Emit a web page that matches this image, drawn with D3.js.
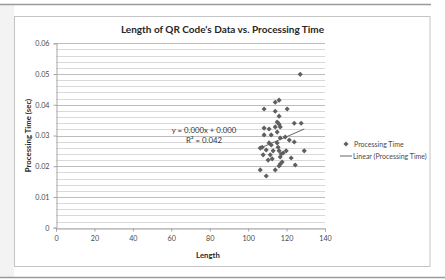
<!DOCTYPE html>
<html>
<head>
<meta charset="utf-8">
<script src="https://cdn.jsdelivr.net/npm/d3@7"></script>
<style>
  body { margin: 0; background: #fff; }
  svg { display: block; font-family: Lato, "Open Sans", sans-serif; }
</style>
</head>
<body>
<div class="chart"></div>
<script>
var w = 445;
var h = 280;

// data: length of QR data vs processing time (sec)
var lengths = [116.1, 114.1, 108.3, 114.1, 120.3, 116.1, 115.1, 116.1, 114.1, 108.3,
               110.9, 116.7, 124.0, 127.6, 108.3, 112.0, 116.7, 119.3, 121.4, 124.0,
               110.9, 115.1, 106.3, 107.3, 109.4, 113.0, 116.1, 119.8, 129.2, 107.8,
               111.5, 112.5, 117.2, 116.7, 122.4, 117.7, 116.7, 116.1, 124.5, 106.3,
               114.1, 109.4, 127.1, 118.2, 112.0, 115.6, 110.4, 115.1];
var times = [0.0415, 0.0408, 0.0386, 0.0379, 0.0386, 0.0363, 0.0344, 0.0337, 0.0328, 0.0324,
             0.0321, 0.0328, 0.0340, 0.0340, 0.0302, 0.0302, 0.0292, 0.0295, 0.0285, 0.0279,
             0.0276, 0.0276, 0.0259, 0.0262, 0.0253, 0.0250, 0.0250, 0.0250, 0.0250, 0.0237,
             0.0237, 0.0224, 0.0240, 0.0230, 0.0227, 0.0214, 0.0207, 0.0201, 0.0204, 0.0188,
             0.0188, 0.0168, 0.0499, 0.0243, 0.0269, 0.0262, 0.0220, 0.0311];

// linear trend line end points as drawn
var trendX = [106.3, 129.2];
var trendY = [0.0259, 0.0321];

var xTicks = [0, 20, 40, 60, 80, 100, 120, 140];
var yTicks = [0, 0.01, 0.02, 0.03, 0.04, 0.05, 0.06];
var yMinor = d3.range(0, 0.0601, 0.002);

var title = "Length of QR Code's Data vs. Processing Time";
var xTitle = "Length";
var yTitle = "Processing Time (sec)";
var eqLines = ["y = 0.000x + 0.000", "R\u00b2 = 0.042"];
var legendNames = ["Processing Time", "Linear (Processing Time)"];

var ptColor = "#5f5f5f";
var textColor = "#4a4a4a";

var svg = d3.select(".chart").append("svg")
    .attr("width", w)
    .attr("height", h);

// screenshot frame
svg.append("rect").attr("x", 0).attr("y", 5).attr("width", 14).attr("height", 272).attr("fill", "#f3f3f3");
svg.append("line").attr("x1", 0).attr("x2", 431).attr("y1", 4.5).attr("y2", 4.5)
    .attr("stroke", "#9a9a9a").attr("stroke-width", 1.5);
svg.append("line").attr("x1", 0).attr("x2", 445).attr("y1", 277.5).attr("y2", 277.5)
    .attr("stroke", "#9a9a9a").attr("stroke-width", 1.5);
svg.append("rect")
    .attr("x", 14.5).attr("y", 16.5).attr("width", 415.5).attr("height", 250)
    .attr("fill", "#fff").attr("stroke", "#c4c4c4");

var x = d3.scaleLinear().domain([0, 140]).range([56, 325]);
var y = d3.scaleLinear().domain([0, 0.06]).range([227.7, 43.3]);

// gridlines
svg.append("g").selectAll("line")
    .data(yMinor)
    .enter().append("line")
    .attr("x1", x(0)).attr("x2", x(140))
    .attr("y1", function(d) { return Math.round(y(d)) + 0.5; })
    .attr("y2", function(d) { return Math.round(y(d)) + 0.5; })
    .attr("stroke", "#d9d9d9");
svg.append("g").selectAll("line")
    .data(yTicks.slice(1))
    .enter().append("line")
    .attr("x1", x(0)).attr("x2", x(140))
    .attr("y1", function(d) { return Math.round(y(d)) + 0.5; })
    .attr("y2", function(d) { return Math.round(y(d)) + 0.5; })
    .attr("stroke", "#bdbdbd");

// axes
var xAxis = d3.axisBottom(x).tickValues(xTicks).tickSize(3).tickPadding(4).tickFormat(d3.format("d"));
var yAxis = d3.axisLeft(y).tickValues(yTicks).tickSize(3).tickPadding(4)
    .tickFormat(function(d) { return d === 0 ? "0" : d.toFixed(2); });

var gx = svg.append("g").attr("transform", "translate(0," + (Math.round(y(0)) + 0.5) + ")").call(xAxis);
var gy = svg.append("g").attr("transform", "translate(" + (Math.round(x(0)) + 0.5) + ",0)").call(yAxis);
[gx, gy].forEach(function(g) {
    g.select(".domain").attr("stroke", "#a6a6a6");
    g.selectAll(".tick line").attr("stroke", "#a6a6a6");
    g.selectAll(".tick text").attr("fill", textColor).attr("font-size", "7.2px")
        .attr("font-family", "Lato, sans-serif");
});

// trend line
svg.append("line")
    .attr("x1", x(trendX[0])).attr("y1", y(trendY[0]))
    .attr("x2", x(trendX[1])).attr("y2", y(trendY[1]))
    .attr("stroke", "#555").attr("stroke-width", 0.9);

// points
var diamond = d3.symbol().type(d3.symbolSquare).size(13);
svg.append("g").selectAll("path")
    .data(lengths)
    .enter().append("path")
    .attr("d", diamond)
    .attr("transform", function(d, i) {
        return "translate(" + x(d) + "," + y(times[i]) + ") rotate(45)";
    })
    .attr("fill", ptColor);

// trend equation
svg.append("g").selectAll("text")
    .data(eqLines)
    .enter().append("text")
    .attr("x", 204)
    .attr("y", function(d, i) { return 133 + i * 10; })
    .attr("text-anchor", "middle")
    .attr("font-size", "7.8px")
    .attr("fill", "#333")
    .text(function(d) { return d; });

// titles
svg.append("text").attr("x", 222.5).attr("y", 32.5).attr("text-anchor", "middle")
    .attr("font-size", "10px").attr("font-weight", "bold").attr("fill", "#262626")
    .text(title);
svg.append("text").attr("x", 208).attr("y", 258).attr("text-anchor", "middle")
    .attr("font-size", "7.8px").attr("font-weight", "bold").attr("fill", "#262626")
    .text(xTitle);
svg.append("text").attr("transform", "translate(31,135.5) rotate(-90)").attr("text-anchor", "middle")
    .attr("font-size", "7.8px").attr("font-weight", "bold").attr("fill", "#262626")
    .text(yTitle);

// legend
var lg = svg.append("g");
lg.append("path").attr("d", diamond)
    .attr("transform", "translate(346,144) rotate(45)").attr("fill", ptColor);
lg.append("line").attr("x1", 340).attr("x2", 352).attr("y1", 156).attr("y2", 156)
    .attr("stroke", "#555").attr("stroke-width", 0.9);
lg.selectAll("text")
    .data(legendNames)
    .enter().append("text")
    .attr("x", function(d, i) { return i === 0 ? 354 : 353; })
    .attr("y", function(d, i) { return 146.5 + i * 12; })
    .attr("font-size", "7px")
    .attr("fill", textColor)
    .text(function(d) { return d; });
</script>
</body>
</html>
